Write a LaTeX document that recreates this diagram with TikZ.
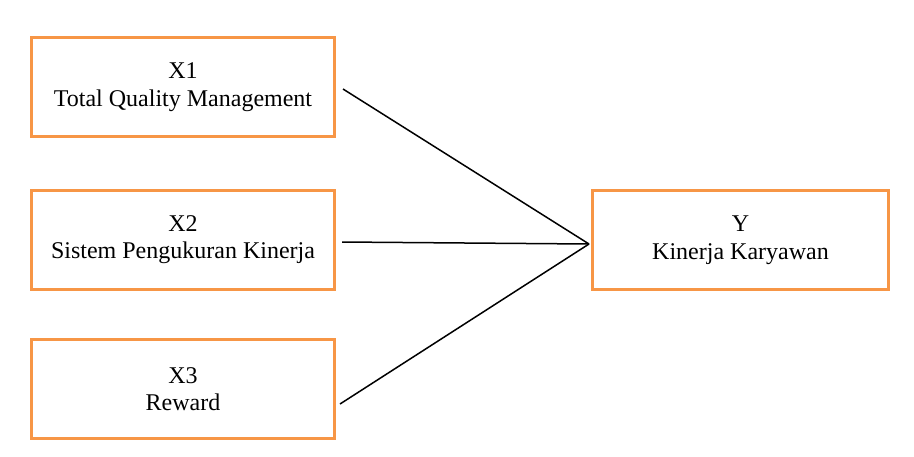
\documentclass[tikz,border=0pt]{standalone}
\usepackage{fontspec}
\setmainfont{Liberation Serif}
\usetikzlibrary{positioning}
\definecolor{varorange}{RGB}{247, 150, 70}

\begin{document}
\begin{tikzpicture}[x=0.5pt, y=-0.5pt,
                vbox/.style={draw=varorange, line width=1.5pt, fill=white,
                    minimum width=151.5pt, minimum height=49.5pt,
                    align=center, font=\fontsize{12}{13.8}\selectfont,
                    inner sep=0pt, outer sep=0pt},
                link/.style={draw=black, line width=0.75pt}
            ]
                \useasboundingbox (0, 0) rectangle (914, 456);

                % variabel bebas
                \node[vbox] (x1) at (183, 87)
                    {X1\\Total Quality Management};
                \node[vbox] (x2) at (183, 239.5)
                    {X2\\Sistem Pengukuran Kinerja};
                \node[vbox] (x3) at (183, 389)
                    {X3\\Reward};

                % variabel terikat
                \node[vbox, minimum width=148pt] (y) at (740.5, 240)
                    {Y\\Kinerja Karyawan};

                \coordinate (x1out) at (343, 89);
                \coordinate (x2out) at (342, 242);
                \coordinate (x3out) at (340, 404);
                \coordinate (yin) at (589, 244);

                \draw[link] (x1out) -- (yin);
                \draw[link] (x2out) -- (yin);
                \draw[link] (x3out) -- (yin);

            \end{tikzpicture}
\end{document}
